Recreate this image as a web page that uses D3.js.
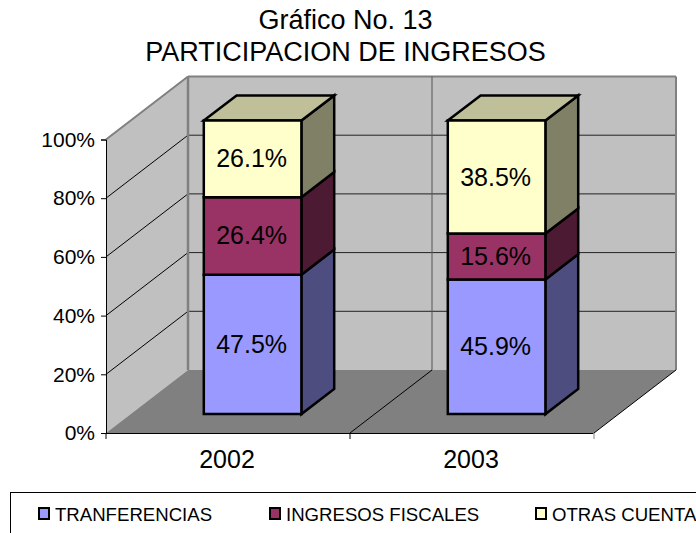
<!DOCTYPE html>
<html>
<head>
<meta charset="utf-8">
<script src="https://d3js.org/d3.v7.min.js"></script>
<style>
  html, body { margin: 0; padding: 0; background: #fff; overflow: hidden; }
  svg { display: block; }
  text { font-family: "Liberation Sans", Arial, sans-serif; fill: #000; }
</style>
</head>
<body>
<svg width="696" height="533"></svg>
<script>
var titleLines = ['Gráfico No. 13', 'PARTICIPACION DE INGRESOS'];
var years = ['2002', '2003'];
var seriesNames = ['TRANFERENCIAS', 'INGRESOS FISCALES', 'OTRAS CUENTAS'];
var transferencias = [47.5, 45.9];
var ingresosFiscales = [26.4, 15.6];
var otrasCuentas = [26.1, 38.5];
var yTicks = [0, 20, 40, 60, 80, 100];

var frontColors = ['#9999ff', '#993366', '#ffffcc'];
var sideColors = ['#4d4d80', '#4d1a33', '#808066'];
var topColors = ['#7373bf', '#73264d', '#bfbf99'];

var svg = d3.select('svg');

var x = d3.scaleBand().domain(years).range([106, 594]).paddingInner(0.6).paddingOuter(0.3);
var y = d3.scaleLinear().domain([0, 100]).range([433, 139.5]);
// how far a point slides right and up as it goes back into the box
var depthX = d3.scaleLinear().domain([0, 1]).range([0, 82]);
var depthY = d3.scaleLinear().domain([0, 1]).range([0, -63]);

var line = d3.line();

function pt(px, value, depth) {
  return [px + depthX(depth), y(value) + depthY(depth)];
}

function poly(points, fill, stroke, width) {
  svg.append('path')
    .attr('d', line(points) + 'Z')
    .attr('fill', fill)
    .attr('stroke', stroke)
    .attr('stroke-width', width)
    .attr('stroke-linejoin', 'miter');
}

function seg(a, b, stroke, width) {
  svg.append('path')
    .attr('d', line([a, b]))
    .attr('fill', 'none')
    .attr('stroke', stroke)
    .attr('stroke-width', width);
}

var left = x.range()[0], right = x.range()[1];

// walls and floor
poly([pt(left, 0, 0), pt(left, 100, 0), pt(left, 100, 1), pt(left, 0, 1)], '#c0c0c0', 'none', 0);
poly([pt(left, 0, 1), pt(left, 100, 1), pt(right, 100, 1), pt(right, 0, 1)], '#c0c0c0', 'none', 0);
poly([pt(left, 0, 0), pt(left, 0, 1), pt(right, 0, 1), pt(right, 0, 0)], '#808080', 'none', 0);

// grid lines
yTicks.slice(1, -1).forEach(function(t) {
  seg(pt(left, t, 0), pt(left, t, 1), '#000', 1);
  seg(pt(left, t, 1), pt(right, t, 1), '#222', 1);
});

// wall edges
seg(pt(left, 100, 0), pt(left, 100, 1), '#808080', 2);
seg(pt(left, 0, 1), pt(left, 100, 1), '#808080', 2.5);
seg(pt(left, 100, 1), pt(right, 100, 1), '#808080', 2);
seg(pt(right, 0, 1), pt(right, 100, 1), '#808080', 2);

// category divider across floor and back wall
var mid = (left + right) / 2;
seg(pt(mid, 0, 1), pt(mid, 100, 1), '#555', 1);
seg(pt(mid, 0, 0), pt(mid, 0, 1), '#000', 1);
seg(pt(right, 0, 0), pt(right, 0, 1), '#000', 1);

// stacked bars
var rows = years.map(function(d, i) {
  return { year: d, a: transferencias[i], b: ingresosFiscales[i], c: otrasCuentas[i] };
});
var stacked = d3.stack().keys(['a', 'b', 'c'])(rows);

var z0 = 0.3, z1 = 0.7;

years.forEach(function(year, j) {
  var x0 = x(year), x1 = x0 + x.bandwidth();
  stacked.forEach(function(s, k) {
    var v0 = s[j][0], v1 = s[j][1];
    poly([pt(x1, v0, z0), pt(x1, v1, z0), pt(x1, v1, z1), pt(x1, v0, z1)], sideColors[k], '#000', 2.5);
    if (k === stacked.length - 1) {
      poly([pt(x0, v1, z0), pt(x0, v1, z1), pt(x1, v1, z1), pt(x1, v1, z0)], topColors[k], '#000', 2.5);
    }
    poly([pt(x0, v0, z0), pt(x0, v1, z0), pt(x1, v1, z0), pt(x1, v0, z0)], frontColors[k], '#000', 2.5);
  });
  stacked.forEach(function(s) {
    var v0 = s[j][0], v1 = s[j][1];
    var c = pt((x0 + x1) / 2, (v0 + v1) / 2, z0);
    svg.append('text')
      .attr('x', c[0] - 1)
      .attr('y', c[1])
      .attr('dy', '0.34em')
      .attr('text-anchor', 'middle')
      .attr('font-size', 25)
      .text(d3.format('.1f')(v1 - v0) + '%');
  });
});

// axes
var yAxis = d3.axisLeft(y).tickValues(yTicks).tickSize(5).tickPadding(6).tickFormat(function(d) { return d + '%'; });
var gy = svg.append('g').attr('transform', 'translate(' + left + ',0)').call(yAxis);
gy.selectAll('text').attr('font-size', 21).attr('font-family', null);
gy.selectAll('line').attr('stroke', '#000');
gy.select('.domain').attr('stroke', '#000');

var xAxis = d3.axisBottom(x).tickSize(0).tickPadding(17);
var gx = svg.append('g').attr('transform', 'translate(-1,' + y(0) + ')').call(xAxis);
gx.selectAll('text').attr('font-size', 25).attr('font-family', null);
gx.select('.domain').attr('stroke', '#000');

[left, mid, right].forEach(function(t) {
  seg([t, y(0)], [t, y(0) + 6], t === right ? '#808080' : '#000', 1);
});

// title
svg.append('g').selectAll('text')
  .data(titleLines)
  .enter().append('text')
  .attr('x', 345.5)
  .attr('y', function(d, i) { return 29 + i * 32; })
  .attr('text-anchor', 'middle')
  .attr('font-size', 27)
  .text(function(d) { return d; });

// legend, runs off the right and bottom of the page like the original
svg.append('rect')
  .attr('x', 10.5).attr('y', 492.5)
  .attr('width', 760).attr('height', 80)
  .attr('fill', '#fff').attr('stroke', '#000');

var legendX = d3.scaleOrdinal().domain(seriesNames).range([39, 270, 536]);
var legend = svg.append('g').selectAll('g')
  .data(seriesNames)
  .enter().append('g')
  .attr('transform', function(d) { return 'translate(' + legendX(d) + ',508)'; });
legend.append('rect')
  .attr('width', 10).attr('height', 11)
  .attr('fill', function(d, i) { return frontColors[i]; })
  .attr('stroke', '#000').attr('stroke-width', 2);
legend.append('text')
  .attr('x', 16).attr('y', 13)
  .attr('font-size', 18.6)
  .text(function(d) { return d; });
</script>
</body>
</html>
